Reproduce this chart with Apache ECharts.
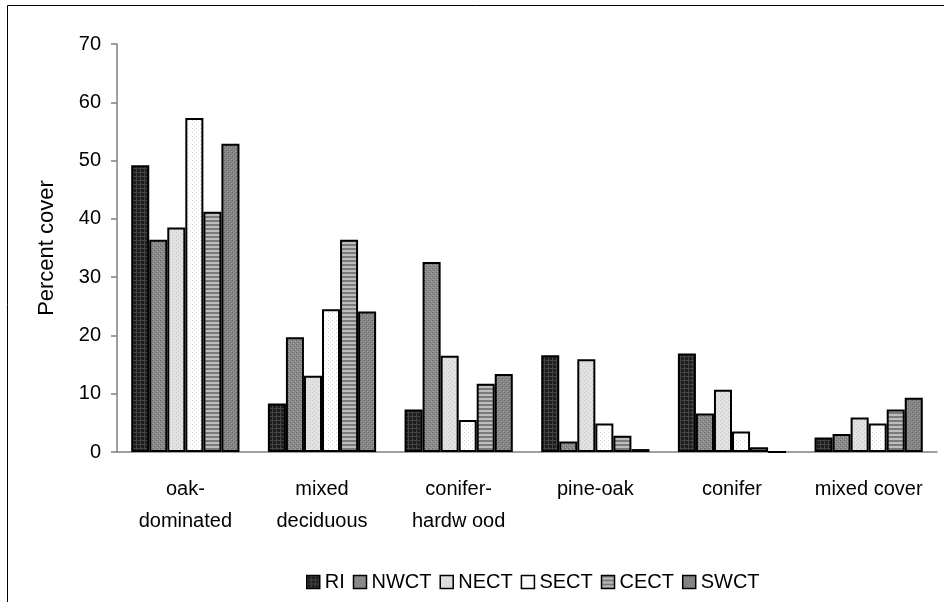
<!DOCTYPE html>
<html>
<head>
<meta charset="utf-8">
<script src="https://cdn.jsdelivr.net/npm/echarts@6/dist/echarts.min.js"></script>
<style>html,body{margin:0;padding:0;background:#fff;}#c{width:944px;height:602px;}</style>
</head>
<body>
<div id="c"></div>
<script>
const categories = ['oak-\ndominated', 'mixed\ndeciduous', 'conifer-\nhardw ood', 'pine-oak', 'conifer', 'mixed cover'];
const seriesNames = ['RI', 'NWCT', 'NECT', 'SECT', 'CECT', 'SWCT'];
const RI   = [49.2, 8.3, 7.3, 16.6, 16.9, 2.5];
const NWCT = [36.4, 19.7, 32.6, 1.8, 6.6, 3.1];
const NECT = [38.5, 13.1, 16.5, 15.9, 10.7, 5.9];
const SECT = [57.3, 24.5, 5.5, 4.9, 3.5, 4.9];
const CECT = [41.2, 36.4, 11.7, 2.8, 0.8, 7.3];
const SWCT = [52.9, 24.1, 13.4, 0.5, 0, 9.3];
const yTicks = [0, 10, 20, 30, 40, 50, 60, 70];
const seriesData = [RI, NWCT, NECT, SECT, CECT, SWCT];

function pattern(type) {
  const c = document.createElement('canvas');
  c.width = 4; c.height = 4;
  const g = c.getContext('2d');
  function fill(col) { g.fillStyle = col; g.fillRect(0, 0, 4, 4); }
  function px(x, y, col) { g.fillStyle = col; g.fillRect(x, y, 1, 1); }
  if (type === 'RI') {
    fill('#1e1e1e');
    for (let i = 0; i < 4; i++) { px(i, 0, '#444'); px(0, i, '#444'); }
  } else if (type === 'NWCT') {
    fill('#8a8a8a');
    px(0,0,'#666'); px(2,2,'#666'); px(1,3,'#aaa'); px(3,1,'#aaa');
  } else if (type === 'NECT') {
    fill('#e2e2e2');
    px(0,0,'#c4c4c4'); px(2,2,'#c4c4c4');
  } else if (type === 'SECT') {
    fill('#ffffff');
    px(0,0,'#d8d8d8'); px(2,2,'#e6e6e6');
  } else if (type === 'CECT') {
    g.fillStyle = '#7a7a7a'; g.fillRect(0, 0, 4, 2);
    g.fillStyle = '#bdbdbd'; g.fillRect(0, 2, 4, 2);
  } else {
    fill('#858585');
    px(0,0,'#6a6a6a'); px(2,2,'#6a6a6a'); px(1,1,'#9a9a9a'); px(3,3,'#9a9a9a');
  }
  return { image: c, repeat: 'repeat' };
}

const chart = echarts.init(document.getElementById('c'), null, { renderer: 'canvas' });
const FONT = '"Liberation Sans", Arial, sans-serif';
chart.setOption({
  animation: false,
  backgroundColor: '#fff',
  graphic: [{
    type: 'rect', left: 5, top: 3, shape: { width: 1000, height: 700 },
    style: { fill: 'none', stroke: '#000', lineWidth: 1 }, silent: true
  }],
  grid: { left: 117, right: 7, top: 44, bottom: 150 },
  legend: {
    left: 301, top: 567,
    icon: 'rect',
    itemWidth: 13, itemHeight: 13, itemGap: 8,
    textStyle: { fontFamily: FONT, fontSize: 20, color: '#000' },
    itemStyle: { borderColor: '#000', borderWidth: 1.5 },
    data: seriesNames
  },
  xAxis: {
    type: 'category', data: categories,
    axisLine: { lineStyle: { color: '#808080', width: 1.5 } },
    axisTick: { length: 6, lineStyle: { color: '#808080', width: 1.5 } },
    axisLabel: { fontFamily: FONT, fontSize: 20, color: '#000', lineHeight: 32, margin: 21, interval: 0 }
  },
  yAxis: {
    type: 'value', min: 0, max: 70, interval: 10,
    name: 'Percent cover', nameLocation: 'middle', nameGap: 59,
    nameTextStyle: { fontFamily: FONT, fontSize: 22, color: '#000' },
    splitLine: { show: false },
    axisLine: { show: true, lineStyle: { color: '#808080', width: 1.5 } },
    axisTick: { show: true, length: 6, lineStyle: { color: '#808080', width: 1.5 } },
    axisLabel: { fontFamily: FONT, fontSize: 20, color: '#000', margin: 16,
      formatter: v => yTicks.includes(v) ? String(v) : '' }
  },
  series: seriesNames.map((n, i) => ({
    name: n, type: 'bar', data: seriesData[i],
    barGap: '0%', barCategoryGap: '20.8%',
    itemStyle: { color: pattern(n), borderColor: '#000', borderWidth: 2 }
  }))
});
</script>
</body>
</html>
